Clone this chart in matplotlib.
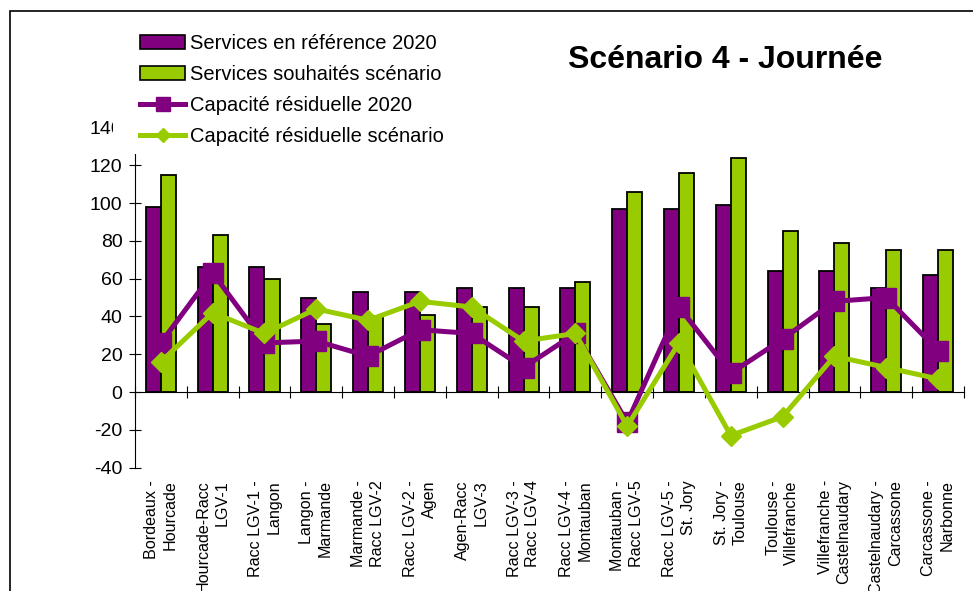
import matplotlib.pyplot as plt
import matplotlib.patches as mpatches
from matplotlib.lines import Line2D
import numpy as np

plt.rcParams['font.family'] = ['Liberation Sans', 'DejaVu Sans']
plt.rcParams['axes.unicode_minus'] = False

# Line sections, in order along the route
segments = [
    'Bordeaux -\nHourcade', 'Hourcade-Racc\nLGV-1', 'Racc LGV-1 -\nLangon',
    'Langon -\nMarmande', 'Marmande -\nRacc LGV-2', 'Racc LGV-2 -\nAgen',
    'Agen-Racc\nLGV-3', 'Racc LGV-3 -\nRacc LGV-4', 'Racc LGV-4 -\nMontauban',
    'Montauban -\nRacc LGV-5', 'Racc LGV-5 -\nSt. Jory', 'St. Jory -\nToulouse',
    'Toulouse -\nVillefranche', 'Villefranche -\nCastelnaudary',
    'Castelnaudary -\nCarcassone', 'Carcassone -\nNarbonne',
]

services_ref_2020 = [98, 66, 66, 50, 53, 53, 55, 55, 55, 97, 97, 99, 64, 64, 55, 62]
services_scenario = [115, 83, 60, 36, 40, 41, 45, 45, 58, 106, 116, 124, 85, 79, 75, 75]
capacity_2020 = [26, 63, 26, 27, 19, 33, 31, 13, 31, -16, 45, 10, 28, 48, 50, 22]
capacity_scenario = [16, 42, 31, 44, 38, 48, 45, 27, 31, -18, 26, -23, -13, 19, 13, 7]

PURPLE = '#800080'
GREEN = '#99CC00'

fig = plt.figure(figsize=(9.73, 5.91), dpi=100)
ax = fig.add_axes([0.1387, 0.2086, 0.852, 0.5758])

x = np.arange(len(segments))
w = 0.29

ax.bar(x - w / 2, services_ref_2020, w, color=PURPLE, edgecolor='black',
       linewidth=1.3, zorder=2)
ax.bar(x + w / 2, services_scenario, w, color=GREEN, edgecolor='black',
       linewidth=1.3, zorder=2)
ax.plot(x, capacity_2020, color=PURPLE, lw=3.6, marker='s', ms=14,
        mec=PURPLE, zorder=3)
ax.plot(x, capacity_scenario, color=GREEN, lw=3.6, marker='D', ms=10,
        mec=GREEN, zorder=4)

ax.set_xlim(-0.5, len(segments) - 0.5)
ax.set_ylim(-40, 140)
ax.set_yticks(np.arange(-40, 141, 20))

for side in ('top', 'right'):
    ax.spines[side].set_visible(False)
ax.spines['bottom'].set_position(('data', 0))
ax.spines['left'].set_linewidth(0.8)
ax.spines['bottom'].set_linewidth(0.8)

# category boundary ticks on the zero line
ax.set_xticks(np.arange(-0.5, len(segments), 1))
ax.set_xticklabels([])
ax.tick_params(axis='x', direction='inout', length=8, width=0.8)
ax.tick_params(axis='y', direction='inout', length=8, width=0.8,
               labelsize=14, pad=5)

# section names along the bottom of the plot
sec = ax.secondary_xaxis(0)
sec.set_xticks(x, labels=segments, rotation=90, multialignment='right',
               linespacing=1.3)
sec.tick_params(length=0, pad=9, labelsize=11.6)
sec.spines['bottom'].set_visible(False)

handles = [
    mpatches.Patch(facecolor=PURPLE, edgecolor='black', linewidth=1.2),
    mpatches.Patch(facecolor=GREEN, edgecolor='black', linewidth=1.2),
    Line2D([], [], color=PURPLE, lw=3.6, marker='s', ms=10, mec=PURPLE),
    Line2D([], [], color=GREEN, lw=3.6, marker='D', ms=7, mec=GREEN),
]
labels = ['Services en référence 2020', 'Services souhaités scénario',
          'Capacité résiduelle 2020', 'Capacité résiduelle scénario']
leg = ax.legend(handles, labels, loc='upper left',
                bbox_to_anchor=(132 / 973, 1 - 26 / 591),
                bbox_transform=fig.transFigure, borderaxespad=0,
                fontsize=14.5, frameon=True, facecolor='white',
                edgecolor='none', framealpha=1, fancybox=False,
                borderpad=0.4, labelspacing=0.6, handlelength=2.25,
                handleheight=0.65, handletextpad=0.25)
leg.set_zorder(10)

# white backing that extends the legend area to the left
fig.patches.append(mpatches.Rectangle((113 / 973, 1 - 152 / 591),
                                      20 / 973, 126 / 591,
                                      transform=fig.transFigure,
                                      facecolor='white', edgecolor='none',
                                      zorder=5))

fig.text(0.745, 1 - 60 / 591, 'Scénario 4 - Journée', fontsize=23,
         fontweight='bold', ha='center', va='center')

# outer chart frame
fig.patches.append(mpatches.Rectangle((10 / 973, -0.2), 2, 1.2 - 11 / 591,
                                      transform=fig.transFigure,
                                      fill=False, edgecolor='black',
                                      linewidth=1.2, zorder=6))

fig.savefig('out.png', dpi=100)
